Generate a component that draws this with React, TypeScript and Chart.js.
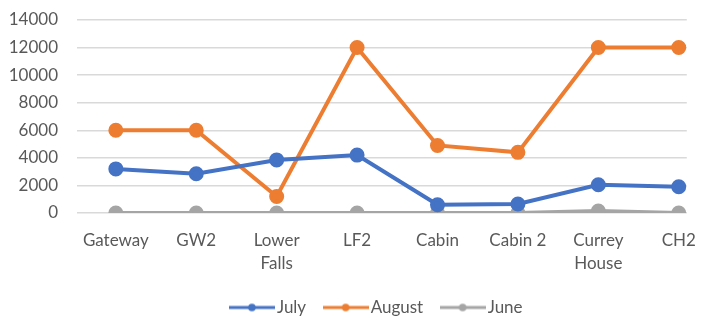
import React, { useEffect, useRef } from "react";
import { Chart, registerables } from "chart.js";

Chart.register(...registerables);

const categories: (string | string[])[] = ["Gateway", "GW2", ["Lower", "Falls"], "LF2", "Cabin", "Cabin 2", ["Currey", "House"], "CH2"];
const july = [3200, 2850, 3850, 4200, 600, 650, 2050, 1900];
const august = [6000, 6000, 1200, 12000, 4900, 4400, 12000, 12000];
const june = [0, 0, 0, 0, 0, 0, 150, 0];
const yTicks = [0, 2000, 4000, 6000, 8000, 10000, 12000, 14000];

const BLUE = "#4472C4";
const ORANGE = "#ED7D31";
const GRAY = "#A5A5A5";
const TEXT = "#595959";
const FONT = "Lato";

function legendIcon(color: string): HTMLCanvasElement {
  const c = document.createElement("canvas");
  c.width = 46;
  c.height = 10;
  const g = c.getContext("2d")!;
  g.strokeStyle = color;
  g.lineWidth = 3;
  g.beginPath();
  g.moveTo(0, 5);
  g.lineTo(46, 5);
  g.stroke();
  g.fillStyle = color;
  g.beginPath();
  g.arc(23, 5, 3.8, 0, Math.PI * 2);
  g.fill();
  return c;
}

const shiftLegend = {
  id: "shiftLegend",
  afterLayout(chart: any) {
    if (chart.legend) {
      chart.legend.left += 25;
      chart.legend.right += 25;
    }
  },
};

export default function App() {
  const ref = useRef<HTMLCanvasElement>(null);
  useEffect(() => {
    const mk = (label: string, vals: number[], color: string) => ({
      label,
      data: vals.map((v, i) => ({ x: i, y: v })),
      borderColor: color,
      backgroundColor: color,
      borderWidth: 4,
      pointRadius: 5.5,
      pointBackgroundColor: color,
      pointBorderColor: color,
      pointStyle: "circle" as const,
      tension: 0,
    });
    const icons = [legendIcon(BLUE), legendIcon(ORANGE), legendIcon(GRAY)];
    const chart = new Chart(ref.current!, {
      type: "line",
      data: {
        datasets: [mk("July", july, BLUE), mk("August", august, ORANGE), mk("June", june, GRAY)],
      },
      plugins: [shiftLegend],
      options: {
        animation: false,
        responsive: false,
        layout: { padding: { top: 12, right: 12, left: 0, bottom: 0 } },
        plugins: {
          tooltip: { enabled: false },
          legend: {
            position: "bottom",
            labels: {
              font: { family: FONT, size: 17 },
              color: TEXT,
              usePointStyle: true,
              pointStyleWidth: 33,
              padding: 23,
              generateLabels: (ch: any) =>
                ch.data.datasets.map((d: any, i: number) => ({
                  text: d.label,
                  pointStyle: icons[i],
                  fillStyle: d.borderColor,
                  strokeStyle: d.borderColor,
                  lineWidth: 0,
                  fontColor: TEXT,
                  datasetIndex: i,
                  hidden: false,
                })),
            },
          },
        },
        scales: {
          x: {
            type: "linear",
            min: -0.483,
            max: 7.1,
            grid: { display: false, drawTicks: false },
            border: { display: false },
            afterBuildTicks: (axis: any) => {
              axis.ticks = categories.map((_, i) => ({ value: i }));
            },
            afterFit: (axis: any) => {
              axis.height = 63;
            },
            ticks: {
              autoSkip: false,
              maxRotation: 0,
              padding: 16,
              color: TEXT,
              font: { family: FONT, size: 17, lineHeight: 1.35 },
              callback: (v: any) => categories[Math.round(Number(v))] as any,
            },
          },
          y: {
            min: 0,
            max: 14000,
            afterBuildTicks: (axis: any) => {
              axis.ticks = yTicks.map((v) => ({ value: v }));
            },
            afterFit: (axis: any) => {
              axis.width = 69;
            },
            grid: {
              color: "#D9D9D9",
              lineWidth: 1.5,
              drawTicks: true,
              tickLength: 19,
              tickColor: "rgba(0,0,0,0)",
            },
            border: { display: false },
            ticks: {
              padding: 0,
              color: TEXT,
              font: { family: FONT, size: 17 },
              callback: (v: any) => String(v),
            },
          },
        },
      },
    } as any);
    return () => chart.destroy();
  }, []);
  return (
    <div style={{ width: 704, height: 318 }}>
      <canvas ref={ref} width={704} height={318} style={{ display: "block" }} />
    </div>
  );
}
